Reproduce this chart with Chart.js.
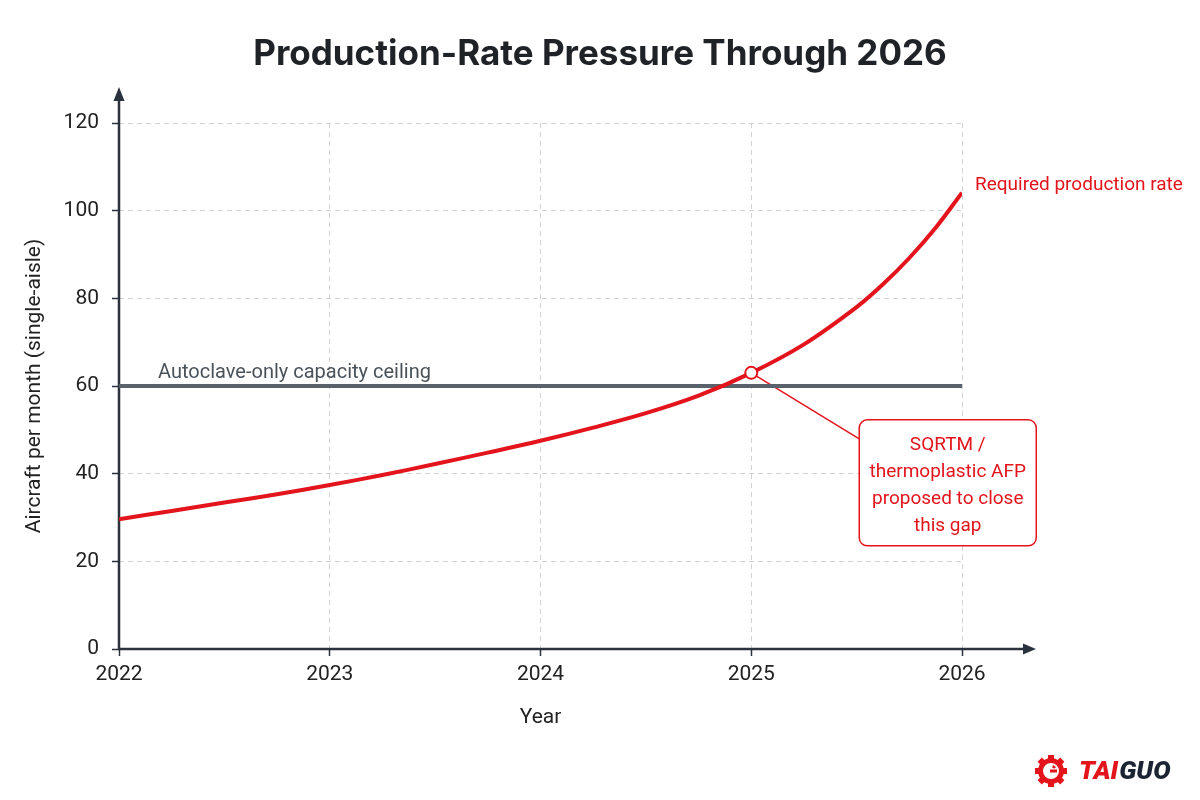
<!DOCTYPE html>
<html>
<head>
<meta charset="utf-8">
<script src="https://cdn.jsdelivr.net/npm/chart.js@4.4.1/dist/chart.umd.min.js"></script>
<style>
  html, body { margin: 0; padding: 0; background: #ffffff; }
  #wrap { width: 1200px; height: 800px; }
</style>
</head>
<body>
<div id="wrap"><canvas id="rateChart" width="1200" height="800"></canvas></div>
<script>
// values
const years = [2022, 2022.25, 2022.5, 2022.75, 2023, 2023.25, 2023.5, 2023.75, 2024,
  2024.25, 2024.5, 2024.75, 2025, 2025.25, 2025.5, 2025.625, 2025.75, 2025.875, 2026];
const requiredRate = [29.6, 31.5, 33.4, 35.3, 37.4, 39.7, 42.2, 44.8, 47.5,
  50.5, 53.8, 57.8, 63.0, 69.5, 78.0, 83.2, 89.2, 96.1, 104.1];
const ceilingYears = [2022, 2026];
const ceilingRate = [60, 60];
const gapYear = [2025];
const gapRate = [63];
const yearTicks = [2022, 2023, 2024, 2025, 2026];
const rateTicks = [0, 20, 40, 60, 80, 100, 120];
const boxLines = ["SQRTM /", "thermoplastic AFP", "proposed to close", "this gap"];

const RED = "#e3141c";
const AXIS = "#2a323d";
const GRID = "#d2d2d2";
const FONT = "Roboto";

function toXY(xs, ys) {
  return xs.map((x, i) => ({ x: x, y: ys[i] }));
}

function roundRect(ctx, x, y, w, h, r) {
  ctx.beginPath();
  ctx.moveTo(x + r, y);
  ctx.lineTo(x + w - r, y);
  ctx.arcTo(x + w, y, x + w, y + r, r);
  ctx.lineTo(x + w, y + h - r);
  ctx.arcTo(x + w, y + h, x + w - r, y + h, r);
  ctx.lineTo(x + r, y + h);
  ctx.arcTo(x, y + h, x, y + h - r, r);
  ctx.lineTo(x, y + r);
  ctx.arcTo(x, y, x + r, y, r);
  ctx.closePath();
}

function drawLogo(ctx) {
  const cx = 1051, cy = 771;
  ctx.save();
  ctx.fillStyle = RED;
  ctx.strokeStyle = RED;
  // gear teeth
  for (let i = 0; i < 8; i++) {
    ctx.save();
    ctx.translate(cx, cy);
    ctx.rotate((i * Math.PI) / 4);
    ctx.fillRect(-3, -16, 6, 6);
    ctx.restore();
  }
  ctx.lineWidth = 5;
  ctx.beginPath();
  ctx.arc(cx, cy, 10.5, 0, Math.PI * 2);
  ctx.stroke();
  // inner G
  ctx.lineWidth = 2.5;
  ctx.beginPath();
  ctx.arc(cx, cy, 5, -0.2 * Math.PI, 1.6 * Math.PI, true);
  ctx.stroke();
  ctx.fillRect(cx - 1, cy - 1.5, 7, 3);
  // word mark
  ctx.font = "italic 900 26px " + FONT;
  ctx.textBaseline = "middle";
  ctx.textAlign = "left";
  ctx.fillText("TAI", 1079, cy + 1);
  const w = ctx.measureText("TAI").width;
  ctx.fillStyle = "#1c2433";
  ctx.fillText("GUO", 1079 + w + 1, cy + 1);
  ctx.restore();
}

const overlay = {
  id: "overlay",
  beforeDatasetsDraw(chart) {
    const ctx = chart.ctx;
    const { left, right, top, bottom } = chart.chartArea;
    ctx.save();
    ctx.strokeStyle = AXIS;
    ctx.fillStyle = AXIS;
    ctx.lineWidth = 2.5;
    // y axis with arrow
    ctx.beginPath();
    ctx.moveTo(left, bottom + 1);
    ctx.lineTo(left, top - 24);
    ctx.stroke();
    ctx.beginPath();
    ctx.moveTo(left, top - 36);
    ctx.lineTo(left - 5.5, top - 22);
    ctx.lineTo(left + 5.5, top - 22);
    ctx.closePath();
    ctx.fill();
    // x axis with arrow
    ctx.beginPath();
    ctx.moveTo(left - 1, bottom);
    ctx.lineTo(right + 64, bottom);
    ctx.stroke();
    ctx.beginPath();
    ctx.moveTo(right + 74, bottom);
    ctx.lineTo(right + 61, bottom - 5.5);
    ctx.lineTo(right + 61, bottom + 5.5);
    ctx.closePath();
    ctx.fill();

    // connector from marker to callout box
    const xs = chart.scales.x, ys = chart.scales.y;
    const px = xs.getPixelForValue(gapYear[0]);
    const py = ys.getPixelForValue(gapRate[0]);
    ctx.strokeStyle = RED;
    ctx.lineWidth = 1.5;
    ctx.beginPath();
    ctx.moveTo(px, py);
    ctx.lineTo(px + 108, py + 66);
    ctx.stroke();
    ctx.restore();
  },
  afterDatasetsDraw(chart) {
    const ctx = chart.ctx;
    const xs = chart.scales.x, ys = chart.scales.y;
    ctx.save();

    // ceiling label
    ctx.font = "20px " + FONT;
    ctx.fillStyle = "#4a525a";
    ctx.textAlign = "left";
    ctx.textBaseline = "middle";
    ctx.fillText("Autoclave-only capacity ceiling",
      xs.getPixelForValue(ceilingYears[0]) + 39, ys.getPixelForValue(ceilingRate[0]) - 13);

    // series label at the end of the curve
    const last = years.length - 1;
    ctx.fillStyle = RED;
    ctx.font = "19px " + FONT;
    ctx.fillText("Required production rate",
      xs.getPixelForValue(years[last]) + 13, ys.getPixelForValue(requiredRate[last]) - 7);

    // callout box
    const px = xs.getPixelForValue(gapYear[0]);
    const py = ys.getPixelForValue(gapRate[0]);
    const bx = px + 108, by = py + 47, bw = 177, bh = 126;
    roundRect(ctx, bx, by, bw, bh, 8);
    ctx.fillStyle = "#ffffff";
    ctx.fill();
    ctx.strokeStyle = RED;
    ctx.lineWidth = 1.5;
    ctx.stroke();
    ctx.fillStyle = RED;
    ctx.font = "19px " + FONT;
    ctx.textAlign = "center";
    boxLines.forEach((line, i) => {
      ctx.fillText(line, bx + bw / 2, by + 25 + i * 27);
    });
    ctx.restore();

    drawLogo(ctx);
  },
};

const ctx = document.getElementById("rateChart").getContext("2d");
const chart = new Chart(ctx, {
  type: "line",
  data: {
    datasets: [
      {
        label: "Gap point",
        data: toXY(gapYear, gapRate),
        showLine: false,
        pointRadius: 6,
        pointBorderWidth: 2,
        pointBackgroundColor: "#ffffff",
        pointBorderColor: RED,
      },
      {
        label: "Required production rate",
        data: toXY(years, requiredRate),
        borderColor: RED,
        borderWidth: 4,
        pointRadius: 0,
        tension: 0.35,
      },
      {
        label: "Autoclave-only capacity ceiling",
        data: toXY(ceilingYears, ceilingRate),
        borderColor: "#59616a",
        borderWidth: 4,
        pointRadius: 0,
      },
    ],
  },
  options: {
    responsive: false,
    animation: false,
    devicePixelRatio: 1,
    layout: { padding: 0 },
    scales: {
      x: {
        type: "linear",
        min: 2022,
        max: 2026,
        afterBuildTicks: (s) => {
          s.ticks = yearTicks.map((v) => ({ value: v }));
        },
        afterFit: (s) => {
          s.height = 151;
        },
        ticks: {
          color: "#222222",
          font: { family: FONT, size: 21 },
          padding: 6,
          maxRotation: 0,
          autoSkip: false,
          callback: (v) => String(v),
        },
        grid: {
          color: GRID,
          tickColor: AXIS,
          tickLength: 7,
          tickWidth: 1.5,
          tickBorderDash: [],
        },
        border: { display: false, dash: [5, 4] },
        title: {
          display: true,
          text: "Year",
          color: "#222222",
          font: { family: FONT, size: 21 },
          padding: { top: 0, bottom: 70 },
        },
      },
      y: {
        min: 0,
        max: 120,
        afterBuildTicks: (s) => {
          s.ticks = rateTicks.map((v) => ({ value: v }));
        },
        afterFit: (s) => {
          s.width = 119;
        },
        ticks: {
          color: "#222222",
          font: { family: FONT, size: 21 },
          padding: 13,
        },
        grid: {
          color: GRID,
          tickColor: AXIS,
          tickLength: 7,
          tickWidth: 1.5,
          tickBorderDash: [],
        },
        border: { display: false, dash: [5, 4] },
        title: {
          display: true,
          text: "Aircraft per month (single-aisle)",
          color: "#222222",
          font: { family: FONT, size: 21 },
          padding: { top: 22, bottom: 0 },
        },
      },
      // empty right-hand box that keeps room for the end label and the callout
      side: {
        type: "linear",
        position: "right",
        grid: { display: false },
        ticks: { display: false },
        border: { display: false },
        afterFit: (s) => {
          s.width = 238;
        },
      },
    },
    plugins: {
      legend: { display: false },
      tooltip: { enabled: false },
      title: {
        display: true,
        text: "Production-Rate Pressure Through 2026",
        color: "#1f2226",
        font: { family: "Inter", size: 35, weight: "bold", lineHeight: 1.2 },
        padding: { top: 33, bottom: 48 },
      },
    },
  },
  plugins: [overlay],
});
</script>
</body>
</html>
